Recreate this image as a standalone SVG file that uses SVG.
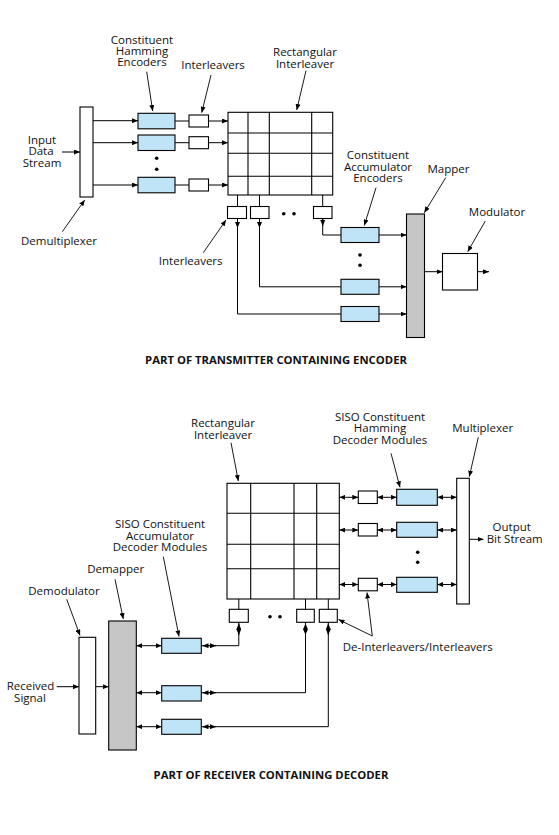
<svg xmlns="http://www.w3.org/2000/svg" width="559" height="835" viewBox="0 0 559 835">
<defs>
<marker id="ah" viewBox="0 0 6 5" refX="6" refY="2.5" markerWidth="6" markerHeight="5" markerUnits="userSpaceOnUse" orient="auto-start-reverse">
<path d="M0,0 L6,2.5 L0,5 z" fill="#000"/>
</marker>
</defs>
<style>
text{font-family:"Open Sans","Liberation Sans",sans-serif;font-size:11.5px;fill:#111;text-anchor:middle}
.cap{font-weight:bold;font-size:11.3px}
.st{text-anchor:start}
.box{fill:#fff;stroke:#000;stroke-width:1.1}
.blue{fill:#bfe4f8;stroke:#000;stroke-width:1.1}
.gray{fill:#c6c6c6;stroke:#000;stroke-width:1.1}
.ln{fill:none;stroke:#000;stroke-width:1}
.ar{fill:none;stroke:#000;stroke-width:1;marker-end:url(#ah)}
.da{fill:none;stroke:#000;stroke-width:1;marker-start:url(#ah);marker-end:url(#ah)}
.ptr{fill:none;stroke:#000;stroke-width:0.9;marker-end:url(#ah)}
.dot{fill:#000}
</style>
<rect width="559" height="835" fill="#fff"/>

<!-- ============ TRANSMITTER ============ -->
<g id="demux"><rect class="box" x="80" y="107" width="13" height="90"/></g>
<g id="input-label"><text x="42" y="143.5">Input</text><text x="41" y="154.5">Data</text><text x="42" y="166.5">Stream</text></g>
<g id="demux-label"><text x="59" y="244.5">Demultiplexer</text></g>

<g id="hamming-encoders">
<rect class="blue" x="138" y="113.3" width="37" height="15.5"/>
<rect class="blue" x="138" y="135" width="37" height="15.5"/>
<rect class="blue" x="138" y="177.3" width="37" height="15.5"/>
<circle class="dot" cx="156.7" cy="158.3" r="1.8"/>
<circle class="dot" cx="156.7" cy="169.3" r="1.8"/>
</g>
<g id="hamming-label"><text x="142" y="44">Constituent</text><text x="142" y="55">Hamming</text><text x="142" y="66">Encoders</text></g>

<g id="top-interleavers">
<rect class="box" x="189" y="115" width="19.5" height="12"/>
<rect class="box" x="189" y="136.7" width="19.5" height="12"/>
<rect class="box" x="189" y="179" width="19.5" height="12"/>
</g>
<g id="interleavers-label-top"><text x="213" y="69">Interleavers</text></g>

<g id="tx-grid">
<rect class="box" x="228" y="112.3" width="104.7" height="82.7"/>
<path class="ln" d="M248,112.3V195M269.3,112.3V195M311.7,112.3V195M228,133H332.7M228,153.3H332.7M228,176.3H332.7" style="stroke-width:1.1"/>
</g>
<g id="tx-grid-label"><text x="305" y="56">Rectangular</text><text x="305" y="67.5">Interleaver</text></g>

<g id="tx-bottom-interleavers">
<rect class="box" x="227.5" y="206.5" width="19" height="12"/>
<rect class="box" x="250.5" y="206.5" width="18.5" height="12"/>
<rect class="box" x="313.5" y="206.5" width="18.5" height="12"/>
<circle class="dot" cx="283.7" cy="213.7" r="1.8"/>
<circle class="dot" cx="294" cy="213.7" r="1.8"/>
</g>
<g id="interleavers-label-low"><text x="190.7" y="265">Interleavers</text></g>

<g id="accumulator-encoders">
<rect class="blue" x="341" y="227.5" width="38" height="15"/>
<rect class="blue" x="341" y="279.3" width="38" height="15"/>
<rect class="blue" x="341" y="306.5" width="38" height="15"/>
<circle class="dot" cx="360" cy="255" r="1.8"/>
<circle class="dot" cx="360" cy="265.3" r="1.8"/>
</g>
<g id="accumulator-label"><text x="378" y="159">Constituent</text><text x="378" y="170.5">Accumulator</text><text x="378" y="182">Encoders</text></g>

<g id="mapper"><rect class="gray" x="406.5" y="214" width="18" height="123.5"/></g>
<g id="mapper-label"><text x="448.5" y="173">Mapper</text></g>
<g id="modulator"><rect class="box" x="442.5" y="253.5" width="35" height="36.5"/></g>
<g id="modulator-label"><text x="497" y="216">Modulator</text></g>

<g id="tx-caption"><text class="cap" x="276" y="364">PART OF TRANSMITTER CONTAINING ENCODER</text></g>

<!-- ============ RECEIVER ============ -->
<g id="rx-grid">
<rect class="box" x="227" y="483.3" width="112.3" height="115.7"/>
<path class="ln" d="M250.7,483.3V599M294,483.3V599M316.7,483.3V599M227,513.3H339.3M227,544.3H339.3M227,568.7H339.3" style="stroke-width:1.1"/>
</g>
<g id="rx-grid-label"><text x="223" y="427">Rectangular</text><text x="223" y="438.5">Interleaver</text></g>

<g id="rx-right-interleavers">
<rect class="box" x="358.3" y="491" width="19" height="12.5"/>
<rect class="box" x="358.3" y="523.5" width="19" height="12.5"/>
<rect class="box" x="358.3" y="578.3" width="19" height="12.5"/>
</g>
<g id="hamming-decoders">
<rect class="blue" x="396.7" y="489.3" width="40.6" height="16"/>
<rect class="blue" x="396.7" y="522.3" width="40.6" height="15"/>
<rect class="blue" x="396.7" y="577.3" width="40.6" height="15"/>
<circle class="dot" cx="417.7" cy="552.3" r="1.8"/>
<circle class="dot" cx="417.7" cy="562.3" r="1.8"/>
</g>
<g id="hamming-dec-label"><text x="380" y="420.5">SISO Constituent</text><text x="380" y="432">Hamming</text><text x="380" y="444">Decoder Modules</text></g>

<g id="mux"><rect class="box" x="456.7" y="478.3" width="12.6" height="125.7"/></g>
<g id="mux-label"><text x="482.7" y="432">Multiplexer</text></g>
<g id="output-label"><text x="511.7" y="531">Output</text><text x="514.7" y="543">Bit Stream</text></g>

<g id="rx-bottom-interleavers">
<rect class="box" x="229.3" y="609.3" width="19" height="13"/>
<rect class="box" x="296.7" y="609.3" width="17.6" height="13"/>
<rect class="box" x="319.3" y="609.3" width="18" height="13"/>
<circle class="dot" cx="270" cy="616.7" r="1.8"/>
<circle class="dot" cx="280" cy="616.7" r="1.8"/>
</g>
<g id="deint-label"><text class="st" x="342.7" y="650.5">De-Interleavers/Interleavers</text></g>

<g id="accumulator-decoders">
<rect class="blue" x="161.7" y="638.3" width="39.6" height="15"/>
<rect class="blue" x="161.7" y="685.7" width="39.6" height="15.3"/>
<rect class="blue" x="161.7" y="719.3" width="39.6" height="15"/>
</g>
<g id="acc-dec-label"><text x="160" y="528">SISO Constituent</text><text x="160" y="539.5">Accumulator</text><text x="160" y="551">Decoder Modules</text></g>

<g id="demapper"><rect class="gray" x="108.7" y="621" width="27.6" height="129"/></g>
<g id="demapper-label"><text x="115.7" y="573">Demapper</text></g>
<g id="demodulator"><rect class="box" x="79" y="637.3" width="16.7" height="96.7"/></g>
<g id="demodulator-label"><text x="64" y="595">Demodulator</text></g>
<g id="received-label"><text x="30.5" y="689.7">Received</text><text x="30" y="701.5">Signal</text></g>

<g id="rx-caption"><text class="cap" x="271" y="779">PART OF RECEIVER CONTAINING DECODER</text></g>

<!-- ============ CONNECTORS ============ -->
<g id="connectors">
<!-- transmitter -->
<path class="ar" d="M62,152H80"/>
<path class="ar" d="M93,120.7H138"/>
<path class="ar" d="M93,142.7H138"/>
<path class="ar" d="M93,185H138"/>
<path class="ln" d="M175,121H189M175,142.7H189M175,185H189"/>
<path class="ar" d="M208.5,121H228"/>
<path class="ar" d="M208.5,142.7H228"/>
<path class="ar" d="M208.5,185H228"/>
<path class="ln" d="M237.5,195V206.5M259.5,195V206.5M322.7,195V206.5"/>
<path class="ln" d="M322.7,218.5V235H341M259.5,218.5V286.8H341M237.5,218.5V314H341"/>
<path class="ar" d="M322.7,218.5V226"/>
<path class="ar" d="M259.5,218.5V228"/>
<path class="ar" d="M237.5,218.5V228"/>
<path class="ar" d="M379,235H406.5"/>
<path class="ar" d="M379,286.8H406.5"/>
<path class="ar" d="M379,314H406.5"/>
<path class="ar" d="M424.5,271.7H442.5"/>
<path class="ar" d="M477.5,271.7H489"/>
<!-- transmitter label pointers -->
<path class="ptr" d="M146.7,71.7L152.7,111"/>
<path class="ptr" d="M211,75L201.7,112.7"/>
<path class="ptr" d="M306,70.7L296.7,110"/>
<path class="ptr" d="M62.3,231.7L84.7,200"/>
<path class="ptr" d="M203.3,252.7L226,220"/>
<path class="ptr" d="M376,187.7L364.3,225.5"/>
<path class="ptr" d="M445.7,177.7L424.3,212.7"/>
<path class="ptr" d="M485.3,221L467.7,251.7"/>

<!-- receiver -->
<path class="da" d="M339.3,497.3H358.3"/>
<path class="da" d="M339.3,530H358.3"/>
<path class="da" d="M339.3,584.5H358.3"/>
<path class="da" d="M377.3,497.3H396.7"/>
<path class="da" d="M377.3,530H396.7"/>
<path class="da" d="M377.3,584.5H396.7"/>
<path class="da" d="M437.3,497.3H456.7"/>
<path class="da" d="M437.3,530H456.7"/>
<path class="da" d="M437.3,584.5H456.7"/>
<path class="ar" d="M469.3,539.3H483.5"/>
<path class="ln" d="M238.8,599V609.3M305.5,599V609.3M328.3,599V609.3"/>
<path class="ln" d="M238.8,622.3V645.7H201.3M305.5,622.3V692.7H201.3M328.3,622.3V726.7H201.3"/>
<!-- double heads on long lines -->
<path class="ar" d="M238.8,629V623.5"/><path class="ar" d="M238.8,629V635"/>
<path class="ar" d="M305.5,629V623.5"/><path class="ar" d="M305.5,629V635"/>
<path class="ar" d="M328.3,629V623.5"/><path class="ar" d="M328.3,629V635"/>
<path class="ar" d="M209,645.7H202.5"/><path class="ar" d="M209,645.7H216"/>
<path class="ar" d="M209,692.7H202.5"/><path class="ar" d="M209,692.7H216"/>
<path class="ar" d="M209,726.7H202.5"/><path class="ar" d="M209,726.7H216"/>
<path class="da" d="M136.3,645.7H161.7"/>
<path class="da" d="M136.3,692.7H161.7"/>
<path class="da" d="M136.3,726.7H161.7"/>
<path class="ar" d="M56.7,686.7H79"/>
<path class="ar" d="M95.7,686.7H108.7"/>
<!-- receiver label pointers -->
<path class="ptr" d="M231,442.7L238.3,481"/>
<path class="ptr" d="M391,453.3L400,487.3"/>
<path class="ptr" d="M478.3,437.3L469.3,476.7"/>
<path class="ptr" d="M163.3,556.7L179,636.5"/>
<path class="ptr" d="M115,579.3L123.3,619"/>
<path class="ptr" d="M66.7,599.3L80,635.5"/>
<path class="ptr" d="M372.3,636L338.5,619.5"/>
<path class="ptr" d="M372.3,636L367,592.5"/>
</g>
</svg>
